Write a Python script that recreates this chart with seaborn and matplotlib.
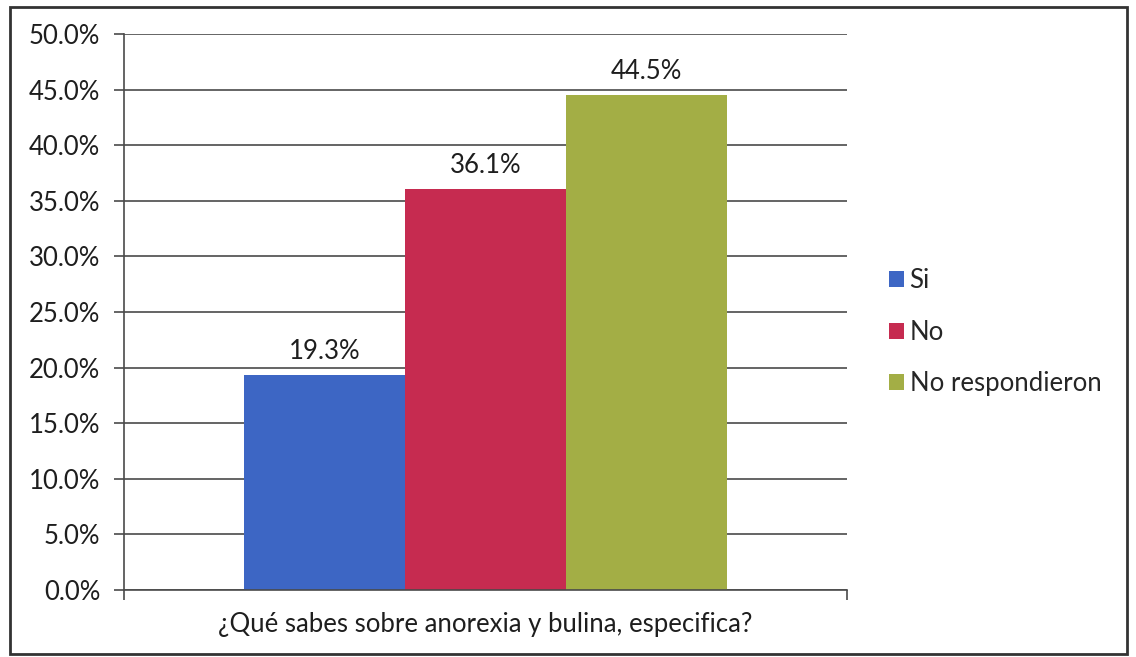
import matplotlib
matplotlib.use("Agg")
import matplotlib.pyplot as plt
import seaborn as sns
import pandas as pd
from matplotlib.patches import Rectangle

question = "¿Qué sabes sobre anorexia y bulina, especifica?"
series = ["Si", "No", "No respondieron"]
values = [19.3, 36.1, 44.5]
colors = ["#3d66c4", "#c62b50", "#a3ae45"]
y_ticks = [0, 5, 10, 15, 20, 25, 30, 35, 40, 45, 50]

df = pd.DataFrame({"pregunta": [question] * len(series), "respuesta": series, "valor": values})

sns.set_theme(style="white")
plt.rcParams["font.family"] = ["Lato", "DejaVu Sans"]

FS = 18.5
TXT = "#1e1e1e"
LINE = "#4a4a4a"

fig = plt.figure(figsize=(11.36, 6.57), dpi=100)
ax = fig.add_axes([0.109, 0.102, 0.637, 0.846])

sns.barplot(data=df, x="pregunta", y="valor", hue="respuesta", hue_order=series,
            palette=colors, width=0.667, saturation=1, linewidth=0, ax=ax, legend=True)

ax.set_ylim(0, 50)
ax.set_xlim(-0.5, 0.5)
ax.set_yticks(y_ticks)
ax.set_yticklabels([f"{t:.1f}%" for t in y_ticks], fontsize=FS, color=TXT)
ax.yaxis.grid(True, color=LINE, linewidth=1.2)
ax.set_axisbelow(True)
ax.tick_params(axis="y", length=7, width=1.2, color=LINE, direction="out", pad=10, left=True)
ax.set_xticks([-0.5, 0.5])
ax.set_xticklabels(["", ""])
ax.tick_params(axis="x", length=7, width=1.2, color=LINE, direction="out", bottom=True)
ax.set_xlabel(question, fontsize=FS, color=TXT, labelpad=5)
ax.set_ylabel("")

for side in ["top", "right"]:
    ax.spines[side].set_visible(False)
for side in ["left", "bottom"]:
    ax.spines[side].set_visible(True)
    ax.spines[side].set_color(LINE)
    ax.spines[side].set_linewidth(1.2)

for container in ax.containers:
    ax.bar_label(container, fmt="%.1f%%", padding=8, fontsize=FS, color=TXT)

handles, labels = ax.get_legend_handles_labels()
fig.legend(handles, labels, loc="center left", bbox_to_anchor=(0.783, 0.494),
           bbox_transform=fig.transFigure, frameon=False,
           fontsize=FS, handlelength=0.58, handleheight=0.58, handletextpad=0.2,
           labelspacing=1.03, borderaxespad=0, borderpad=0)
ax.get_legend().remove()

fig.patches.append(Rectangle((0.009, 0.005), 0.983, 0.985, transform=fig.transFigure,
                             fill=False, edgecolor="#333333", linewidth=2))

fig.savefig("out.png", dpi=100, facecolor="white")
